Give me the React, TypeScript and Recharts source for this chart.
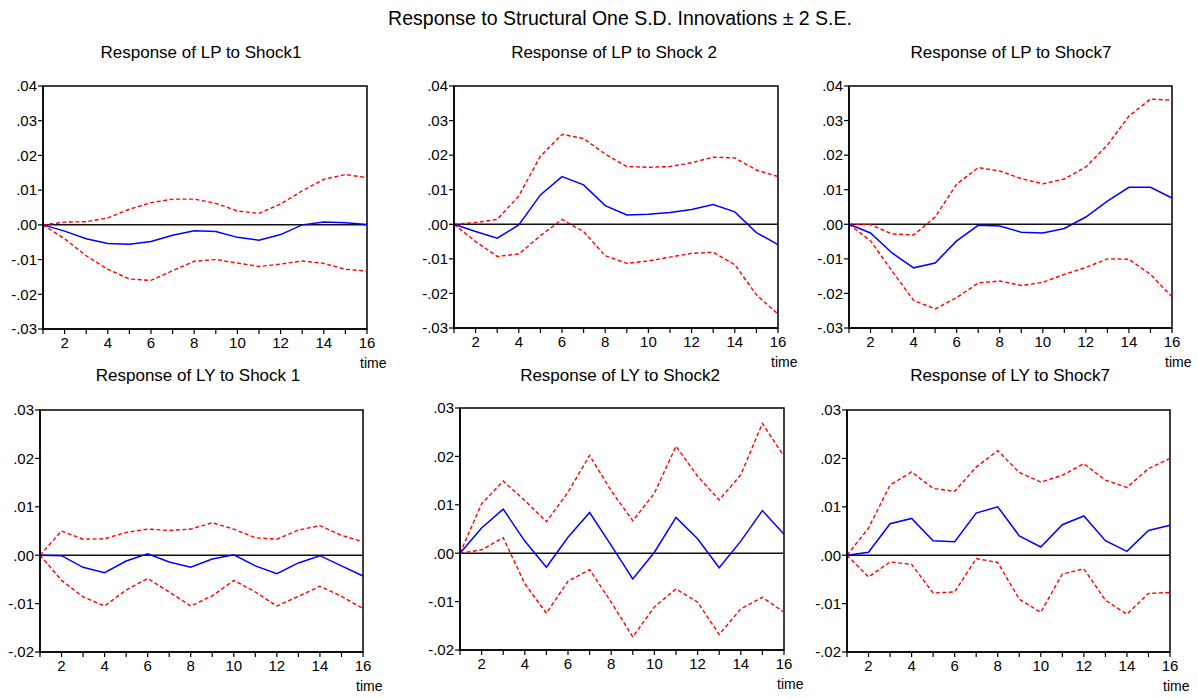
import React from 'react'
import { LineChart, Line, XAxis, YAxis, ReferenceLine, ReferenceArea } from 'recharts'

const periods = [1, 2, 3, 4, 5, 6, 7, 8, 9, 10, 11, 12, 13, 14, 15, 16]

// LP to Shock1
const lpShock1Resp = [0, -0.0018, -0.004, -0.0054, -0.0056, -0.0048, -0.003, -0.0017, -0.0019, -0.0036, -0.0044, -0.0028, 0, 0.0008, 0.0006, 0.0001]
const lpShock1Upper = [0, 0.0008, 0.0009, 0.002, 0.0045, 0.0064, 0.0074, 0.0074, 0.0062, 0.004, 0.0033, 0.006, 0.0098, 0.0131, 0.0145, 0.0136]
const lpShock1Lower = [0, -0.004, -0.0089, -0.0128, -0.0156, -0.016, -0.0132, -0.0105, -0.01, -0.011, -0.012, -0.0113, -0.0104, -0.0111, -0.0128, -0.0133]

// LP to Shock 2
const lpShock2Resp = [0, -0.0021, -0.004, -0.0002, 0.0085, 0.0138, 0.0114, 0.0054, 0.0027, 0.0029, 0.0034, 0.0043, 0.0057, 0.0036, -0.0024, -0.0059]
const lpShock2Upper = [0, 0.0005, 0.0014, 0.0082, 0.0197, 0.026, 0.0248, 0.0203, 0.0167, 0.0165, 0.0167, 0.0178, 0.0194, 0.0192, 0.0157, 0.0138]
const lpShock2Lower = [0, -0.005, -0.0093, -0.0086, -0.0033, 0.0014, -0.0021, -0.0091, -0.0113, -0.0106, -0.0095, -0.0084, -0.0081, -0.0117, -0.0204, -0.026]

// LP to Shock7
const lpShock7Resp = [0, -0.0025, -0.0083, -0.0126, -0.0112, -0.0048, -0.0003, -0.0005, -0.0023, -0.0025, -0.0012, 0.0021, 0.0067, 0.0107, 0.0107, 0.0076]
const lpShock7Upper = [0, -0.0001, -0.0028, -0.0031, 0.0021, 0.0116, 0.0164, 0.0154, 0.0132, 0.0117, 0.0131, 0.0166, 0.0229, 0.0313, 0.0362, 0.0359]
const lpShock7Lower = [0, -0.0048, -0.0135, -0.022, -0.0245, -0.0212, -0.017, -0.0164, -0.0177, -0.0168, -0.0145, -0.0125, -0.01, -0.0101, -0.0145, -0.021]

// LY to Shock 1
const lyShock1Resp = [0, -0.0001, -0.0025, -0.0036, -0.0012, 0.0003, -0.0014, -0.0025, -0.0008, 0.0001, -0.0022, -0.0038, -0.0016, -0.0001, -0.0022, -0.0043]
const lyShock1Upper = [0, 0.005, 0.0033, 0.0034, 0.0047, 0.0054, 0.0051, 0.0054, 0.0067, 0.0054, 0.0036, 0.0033, 0.0052, 0.0061, 0.0041, 0.0028]
const lyShock1Lower = [0, -0.0052, -0.0086, -0.0105, -0.0072, -0.0048, -0.0076, -0.0105, -0.0084, -0.0052, -0.0076, -0.0105, -0.0085, -0.0064, -0.0085, -0.011]

// LY to Shock2
const lyShock2Resp = [0, 0.0052, 0.0091, 0.0025, -0.0029, 0.0033, 0.0084, 0.0016, -0.0053, 0.0002, 0.0074, 0.003, -0.003, 0.0025, 0.0088, 0.0039]
const lyShock2Upper = [0, 0.0102, 0.0149, 0.0109, 0.0065, 0.0126, 0.0202, 0.0129, 0.0067, 0.0124, 0.0221, 0.0159, 0.011, 0.0162, 0.0268, 0.02]
const lyShock2Lower = [0, 0.0007, 0.0032, -0.0063, -0.0124, -0.0058, -0.0034, -0.0101, -0.0173, -0.0111, -0.0074, -0.0101, -0.0168, -0.0115, -0.0091, -0.0122]

// LY to Shock7
const lyShock7Resp = [0, 0.0006, 0.0065, 0.0076, 0.003, 0.0028, 0.0087, 0.01, 0.004, 0.0017, 0.0063, 0.0081, 0.003, 0.0008, 0.0051, 0.0062]
const lyShock7Upper = [0, 0.0056, 0.0145, 0.0172, 0.0138, 0.0132, 0.0182, 0.0216, 0.0171, 0.0151, 0.0165, 0.0189, 0.0155, 0.014, 0.0179, 0.02]
const lyShock7Lower = [0, -0.0045, -0.0014, -0.0019, -0.0078, -0.0076, -0.0007, -0.0015, -0.0091, -0.0118, -0.0039, -0.0028, -0.0093, -0.0122, -0.0079, -0.0077]

const topTicks = [-0.03, -0.02, -0.01, 0, 0.01, 0.02, 0.03, 0.04]
const bottomTicks = [-0.02, -0.01, 0, 0.01, 0.02, 0.03]

const FONT = '"Liberation Sans", Arial, sans-serif'

const fmtY = (v: number) => {
  const s = Math.abs(v).toFixed(2).slice(1)
  return (v < -1e-9 ? '-' : '') + s
}
const fmtX = (v: number) => (v % 2 === 0 ? String(v) : '')

interface Box { x: number; y: number; w: number; h: number }

interface PanelProps {
  title: string
  resp: number[]
  upper: number[]
  lower: number[]
  ticks: number[]
  box: Box
  titleX: number
  titleY: number
}

const Panel = ({ title, resp, upper, lower, ticks, box, titleX, titleY }: PanelProps) => {
  const data = periods.map((t, i) => ({ t, resp: resp[i], upper: upper[i], lower: lower[i] }))
  const yw = 46
  const mt = 12
  const mr = 12
  const xh = 30
  const lo = ticks[0]
  const hi = ticks[ticks.length - 1]
  return (
    <>
      <div style={{ position: 'absolute', left: titleX - 160, width: 320, top: titleY - 10, lineHeight: '20px', textAlign: 'center', fontSize: 17 }}>
        {title}
      </div>
      <div style={{ position: 'absolute', left: box.x - yw, top: box.y - mt }}>
        <LineChart width={box.w + yw + mr} height={box.h + mt + xh} data={data} margin={{ top: mt, right: mr, left: 0, bottom: 0 }}>
          <XAxis
            dataKey="t"
            type="number"
            domain={[1, 16]}
            ticks={periods}
            interval={0}
            tickFormatter={fmtX}
            height={xh}
            tickSize={5}
            tickMargin={3}
            axisLine={{ stroke: '#000', strokeWidth: 1.5 }}
            tickLine={{ stroke: '#000', strokeWidth: 1.2 }}
            tick={{ fill: '#000', fontSize: 15, fontFamily: FONT }}
          />
          <YAxis
            type="number"
            domain={[lo, hi]}
            ticks={ticks}
            interval={0}
            tickFormatter={fmtY}
            width={yw}
            tickSize={5}
            tickMargin={1}
            axisLine={{ stroke: '#000', strokeWidth: 1.5 }}
            tickLine={{ stroke: '#000', strokeWidth: 1.2 }}
            tick={{ fill: '#000', fontSize: 15, fontFamily: FONT }}
          />
          <ReferenceArea x1={1} x2={16} y1={lo} y2={hi} fill="none" stroke="#000" strokeWidth={1.5} />
          <ReferenceLine y={0} stroke="#111" strokeWidth={1.5} />
          <Line type="linear" dataKey="upper" stroke="#ff0000" strokeWidth={1.4} strokeDasharray="4 2.5" dot={false} isAnimationActive={false} />
          <Line type="linear" dataKey="lower" stroke="#ff0000" strokeWidth={1.4} strokeDasharray="4 2.5" dot={false} isAnimationActive={false} />
          <Line type="linear" dataKey="resp" stroke="#0000ff" strokeWidth={1.5} dot={false} isAnimationActive={false} />
        </LineChart>
      </div>
      <div style={{ position: 'absolute', left: box.x + box.w - 7, top: box.y + box.h + 26, fontSize: 14, lineHeight: '16px' }}>time</div>
    </>
  )
}

export default function App() {
  return (
    <div style={{ position: 'absolute', left: 0, top: 0, width: 1198, height: 699, background: '#fff', fontFamily: FONT, color: '#000' }}>
      <div style={{ position: 'absolute', left: 320, width: 600, top: 7, lineHeight: '22px', textAlign: 'center', fontSize: 19.5 }}>
        Response to Structural One S.D. Innovations ± 2 S.E.
      </div>
      <Panel title="Response of LP to Shock1" resp={lpShock1Resp} upper={lpShock1Upper} lower={lpShock1Lower} ticks={topTicks}
        box={{ x: 43, y: 86, w: 324, h: 243 }} titleX={201} titleY={53} />
      <Panel title="Response of LP to Shock 2" resp={lpShock2Resp} upper={lpShock2Upper} lower={lpShock2Lower} ticks={topTicks}
        box={{ x: 454, y: 86, w: 324, h: 242 }} titleX={614} titleY={53} />
      <Panel title="Response of LP to Shock7" resp={lpShock7Resp} upper={lpShock7Upper} lower={lpShock7Lower} ticks={topTicks}
        box={{ x: 849, y: 86, w: 323, h: 242 }} titleX={1011} titleY={53} />
      <Panel title="Response of LY to Shock 1" resp={lyShock1Resp} upper={lyShock1Upper} lower={lyShock1Lower} ticks={bottomTicks}
        box={{ x: 40, y: 410, w: 323, h: 242 }} titleX={198} titleY={376} />
      <Panel title="Response of LY to Shock2" resp={lyShock2Resp} upper={lyShock2Upper} lower={lyShock2Lower} ticks={bottomTicks}
        box={{ x: 460, y: 408, w: 324, h: 242 }} titleX={620} titleY={376} />
      <Panel title="Response of LY to Shock7" resp={lyShock7Resp} upper={lyShock7Upper} lower={lyShock7Lower} ticks={bottomTicks}
        box={{ x: 847, y: 410, w: 323, h: 242 }} titleX={1010} titleY={376} />
    </div>
  )
}
